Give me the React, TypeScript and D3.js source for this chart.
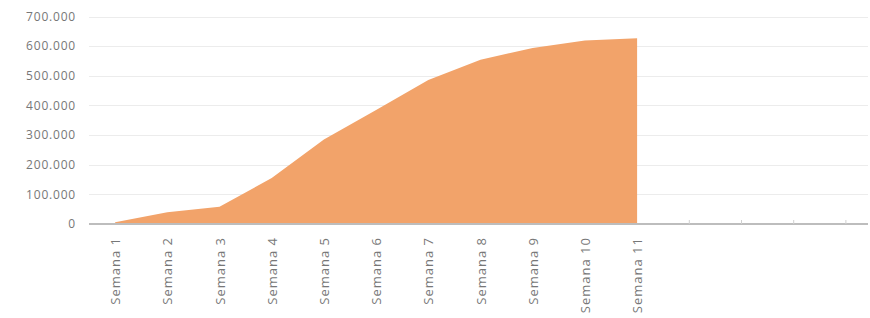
import React, { useEffect, useRef } from 'react';
import * as d3 from 'd3';

const categories = [
  'Semana 1', 'Semana 2', 'Semana 3', 'Semana 4', 'Semana 5', 'Semana 6',
  'Semana 7', 'Semana 8', 'Semana 9', 'Semana 10', 'Semana 11', '', ' ', '  ', '   ',
];
const values = [6000, 40000, 58000, 155000, 285000, 385000, 486000, 554000, 594000, 619000, 627000];
const yTicks = [0, 100000, 200000, 300000, 400000, 500000, 600000, 700000];

const width = 870;
const height = 318;

const AreaChart = () => {
  const svgRef = useRef<SVGSVGElement>(null);

  useEffect(() => {
    const svg = d3.select(svgRef.current);
    svg.selectAll('*').remove();

    const x = d3.scaleBand().domain(categories).range([89, 872]).paddingInner(0).paddingOuter(0);
    const cx = (c: string) => (x(c) as number) + x.bandwidth() / 2;
    const y = d3.scaleLinear().domain([0, 700000]).range([224, 16.5]);

    const fmt = d3.formatLocale({ decimal: ',', thousands: '.', grouping: [3], currency: ['', ''] }).format(',');

    // gridlines
    svg.append('g')
      .selectAll('line')
      .data(yTicks.slice(1))
      .enter()
      .append('line')
      .attr('x1', 89)
      .attr('x2', 868)
      .attr('y1', d => Math.round(y(d)) + 0.5)
      .attr('y2', d => Math.round(y(d)) + 0.5)
      .attr('stroke', '#ececec')
      .attr('stroke-width', 1);

    // y labels
    svg.append('g')
      .selectAll('text')
      .data(yTicks)
      .enter()
      .append('text')
      .attr('x', 76)
      .attr('y', d => y(d))
      .attr('dy', '0.35em')
      .attr('text-anchor', 'end')
      .attr('font-family', '"Open Sans", sans-serif')
      .attr('font-size', 12)
      .attr('letter-spacing', 0.8)
      .attr('fill', '#777')
      .text(d => fmt(d));

    // area
    const area = d3.area<number>()
      .x((_, i) => cx(categories[i]))
      .y0(y(0))
      .y1(d => y(d));
    svg.append('path')
      .datum(values)
      .attr('d', area)
      .attr('fill', '#f2a36a');

    // baseline
    svg.append('line')
      .attr('x1', 89)
      .attr('x2', 868)
      .attr('y1', y(0))
      .attr('y2', y(0))
      .attr('stroke', '#bdbdbd')
      .attr('stroke-width', 2);

    // small marks for empty categories
    svg.append('g')
      .selectAll('line')
      .data(categories.slice(values.length))
      .enter()
      .append('line')
      .attr('x1', d => cx(d))
      .attr('x2', d => cx(d))
      .attr('y1', y(0) - 4)
      .attr('y2', y(0))
      .attr('stroke', '#d0d0d0')
      .attr('stroke-width', 1);

    // x labels
    svg.append('g')
      .selectAll('text')
      .data(categories.filter(c => c.trim() !== ''))
      .enter()
      .append('text')
      .attr('transform', d => `translate(${cx(d) + 0.5},237) rotate(-90)`)
      .attr('dy', '0.36em')
      .attr('text-anchor', 'end')
      .attr('font-family', '"Open Sans", sans-serif')
      .attr('font-size', 13)
      .attr('letter-spacing', 1)
      .attr('fill', '#777')
      .text(d => d);
  }, []);

  return <svg ref={svgRef} width={width} height={height} style={{ display: 'block' }}></svg>;
};

export default function App() {
  return (
    <div style={{ position: 'absolute', left: 0, top: 0, background: '#fff' }}>
      <AreaChart />
    </div>
  );
}
